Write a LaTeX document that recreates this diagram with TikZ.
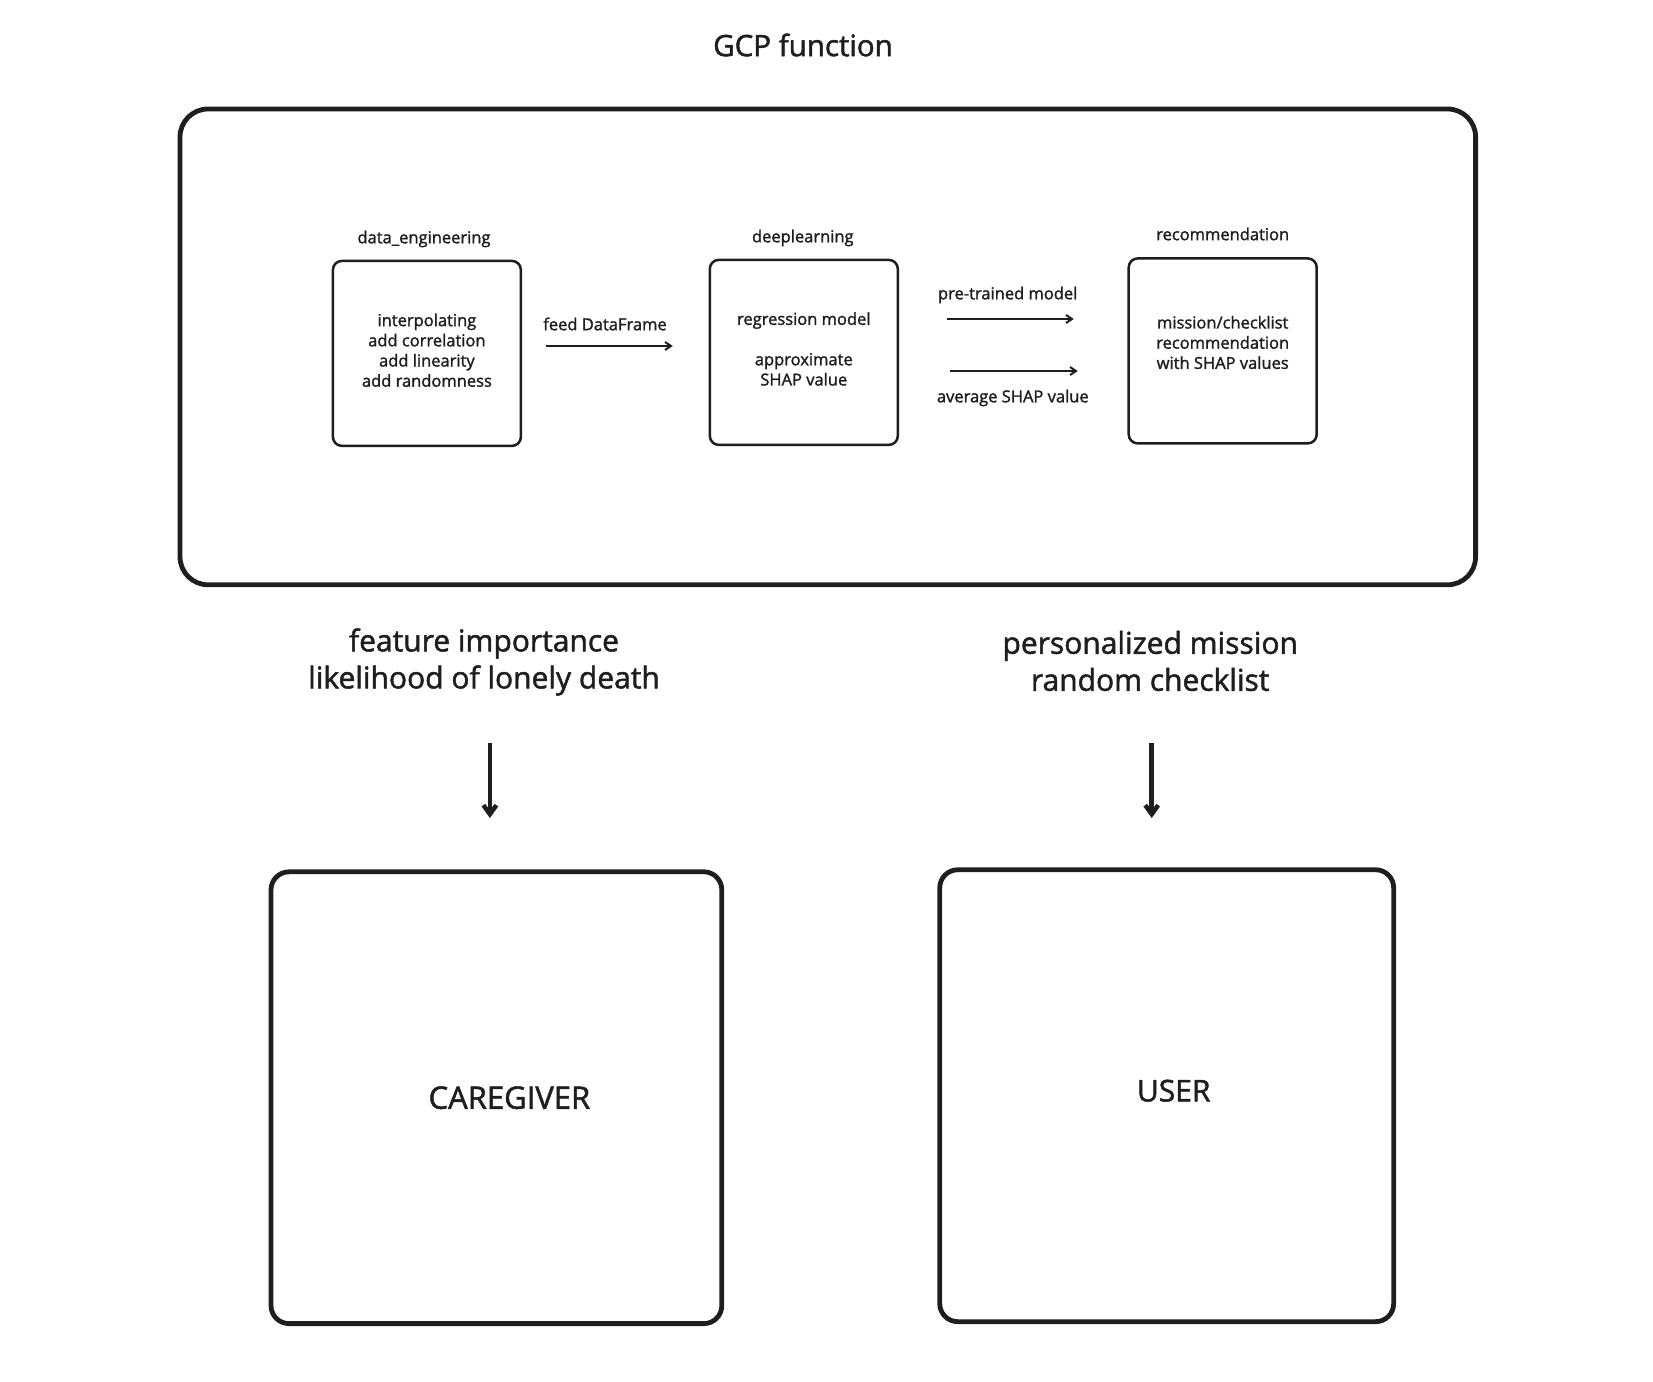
\documentclass[tikz,border=0pt]{standalone}
\usepackage{fontspec}
\setmainfont{Open Sans}[RawFeature={embolden=1.6}]
\usetikzlibrary{arrows.meta}
\definecolor{ink}{HTML}{1E1E1E}
\tikzset{
	>={Straight Barb[length=6pt,width=8pt]},
	every node/.style={text=ink},
	frame/.style={draw=ink, line width=4.8pt, rounded corners=28pt},
	stage/.style={draw=ink, line width=2.5pt, rounded corners=9pt, minimum width=188pt, minimum height=185pt, align=center, font=\fontsize{16.5}{20.2}\selectfont},
	target/.style={draw=ink, line width=4.8pt, rounded corners=18pt},
	small/.style={font=\fontsize{16.5}{20}\selectfont},
	big/.style={align=center, font=\fontsize{30}{37}\selectfont},
	flow/.style={draw=ink, line width=2pt},
	down/.style={draw=ink, line width=4.5pt, >={Straight Barb[length=9pt,width=13pt]}}
}
\begin{document}
\begin{tikzpicture}[x=1pt,y=-1pt]
	\useasboundingbox (0,0) rectangle (1653,1381);
	\node	(title) at (803,45) [font=\fontsize{29.5}{36}\selectfont] {GCP function};
	\node	(gcp) at (827.8,346.9) [frame, minimum width=1295.6pt, minimum height=475.8pt] {};
	% stages
	\node	(prep) at (426.9,353.4) [stage, text depth=6.5pt] {interpolating\\add correlation\\add linearity\\add randomness};
	\node	(dl) at (803.8,352.4) [stage, text depth=7pt] {regression model\\[20.2pt]approximate\\SHAP value};
	\node	(rec) at (1222.7,350.9) [stage, text depth=17pt] {mission/checklist\\recommendation\\with SHAP values};
	\node	(prephead) at (424,239) [small] {data\_engineering};
	\node	(dlhead) at (802.8,238) [small] {deeplearning};
	\node	(rechead) at (1222.7,234) [small] {recommendation};
	% arrows between stages
	\coordinate (f1) at (545.8,346);
	\coordinate (f2) at (672.8,346);
	\coordinate (m1) at (946.8,319);
	\coordinate (m2) at (1073.8,319);
	\coordinate (s1) at (949.8,371);
	\coordinate (s2) at (1077.8,371);
	\node	(feed) at (605,324) [small] {feed DataFrame};
	\node	(pre) at (1007.7,295) [small] {pre-trained model};
	\node	(avg) at (1012.8,398) [small] {average SHAP value};
	\draw[flow]
	(f1) edge[->] (f2)
	(m1) edge[->] (m2)
	(s1) edge[->] (s2)
	;
	% outputs
	\node	(care) at (484,662) [big] {feature importance\\likelihood of lonely death};
	\node	(mission) at (1150.2,661) [big] {personalized mission\\random checklist};
	\coordinate (c1) at (489.9,743);
	\coordinate (c2) at (489.9,818);
	\coordinate (u1) at (1151.7,743);
	\coordinate (u2) at (1151.7,818);
	\draw[down]
	(c1) edge[->] (c2)
	(u1) edge[->] (u2)
	;
	\node	(giver) at (496.4,1097.7) [target, minimum width=450.8pt, minimum height=451.8pt] {};
	\node	(user) at (1166.7,1095.7) [target, minimum width=453.9pt, minimum height=451.9pt] {};
	\node	(givername) at ([xshift=13pt]giver.center) [font=\fontsize{31}{37}\selectfont] {CAREGIVER};
	\node	(username) at ([xshift=7pt,yshift=5pt]user.center) [font=\fontsize{30}{37}\selectfont] {USER};
\end{tikzpicture}
\end{document}
